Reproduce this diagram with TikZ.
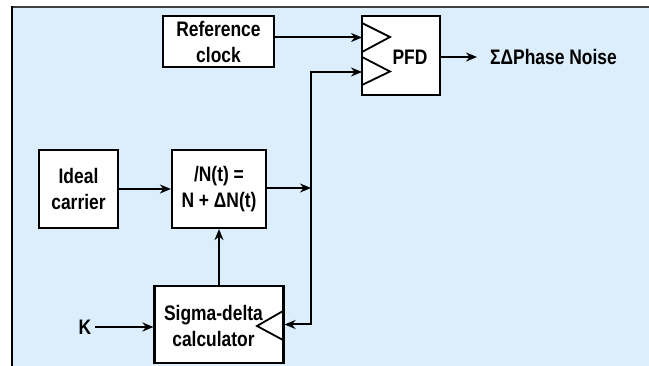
\documentclass[tikz,border=0pt]{standalone}
\usepackage{fontspec}
\setmainfont{Liberation Sans}[FakeStretch=0.83]
\usepackage{tikz}
\usetikzlibrary{
  arrows.meta,%
  calc,%
  positioning
}
\definecolor{panelblue}{RGB}{220,237,251}
\tikzset{>={Stealth[length=11pt,width=9pt]}}
\tikzset{font=\fontsize{21}{26}\selectfont\bfseries}
\tikzset{block/.style={draw, fill=white, line width=2.2pt, inner sep=0pt, align=center},
  wire/.style={line width=2pt}}

\begin{document}
\begin{tikzpicture}[x=1pt, y=-1pt]
        \useasboundingbox (0,0) rectangle (649,366);
        % panel
        \fill[panelblue] (11,7) rectangle (649,366);
        \draw[line width=2pt, black!75] (11,7.5) -- (649,7.5);
        \draw[line width=2.5pt] (12,6.5) -- (12,366);
        % blocks
        \node[block, minimum width=111pt, minimum height=51pt] (ref) at (218.5,41.5) {Reference\\clock};
        \node[block, minimum width=78pt, minimum height=79pt] (pfd) at (401,55.5) {};
        \node (pfdtxt) at ([xshift=9pt, yshift=-1.5pt]pfd.center) {PFD};
        \node[block, minimum width=79pt, minimum height=78pt] (ideal) at (78.5,189) {Ideal\\carrier};
        \node[block, minimum width=94pt, minimum height=78pt] (div) at (219,189) {/N(t) =\\N + ΔN(t)};
        \node[block, minimum width=129pt, minimum height=77pt] (sdc) at (219,324.5) {};
        \node[align=center] (sdctxt) at ([xshift=-5.5pt, yshift=-1pt]sdc.center) {Sigma-delta\\calculator};
        \node (K) at (85,327) {K};
        \node[anchor=west, inner xsep=13pt] (noise) at (477,57) {ΣΔPhase Noise};
        % input triangles
        \draw[line width=1.8pt] (362,23) -- (390,37) -- (362,52);
        \draw[line width=1.8pt] (362,57) -- (390,71.5) -- (362,85);
        \draw[line width=1.8pt] (283,311) -- (257,326) -- (283,340);
        % connectors
        \coordinate (pfdin1) at (362,37.5);
        \coordinate (pfdin2) at (362,72);
        \coordinate (bus) at (311,188);
        \draw[wire, ->] (ref.east |- pfdin1) -- (pfdin1);
        \draw[wire, ->] (ideal) -- (div);
        \draw[wire, ->] (div.east |- bus) -- (bus);
        \draw[wire, <->] (pfdin2) -| (bus) |- (sdc.east);
        \draw[wire, ->] (sdc) -- (div);
        \draw[wire, ->] (K) -- (sdc.west |- K);
        \draw[wire, ->] (pfd.east |- noise) -- (noise.west);
\end{tikzpicture}
\end{document}
